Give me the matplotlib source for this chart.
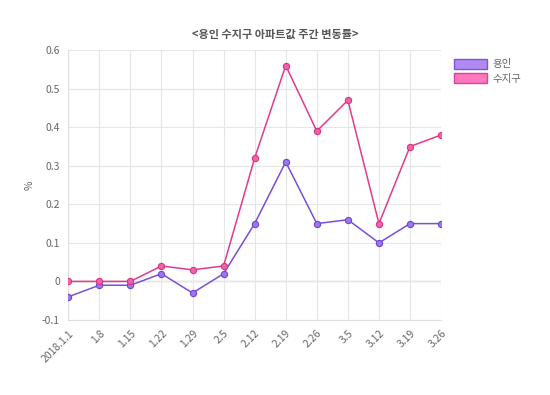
import matplotlib
matplotlib.use("Agg")
import matplotlib.pyplot as plt
from matplotlib.patches import Patch

plt.rcParams['font.family'] = ['Noto Sans CJK KR', 'DejaVu Sans']

# weekly change in apartment prices (%)
weeks = ["2018.1.1", "1.8", "1.15", "1.22", "1.29", "2.5", "2.12",
         "2.19", "2.26", "3.5", "3.12", "3.19", "3.26"]
yongin = [-0.04, -0.01, -0.01, 0.02, -0.03, 0.02, 0.15,
          0.31, 0.15, 0.16, 0.10, 0.15, 0.15]
suji = [0.0, 0.0, 0.0, 0.04, 0.03, 0.04, 0.32,
        0.56, 0.39, 0.47, 0.15, 0.35, 0.38]
yticks = [-0.1, 0, 0.1, 0.2, 0.3, 0.4, 0.5, 0.6]

fig = plt.figure(figsize=(5.5, 3.95), dpi=100)
ax = fig.add_axes([0.124, 0.19, 0.678, 0.683])

x = range(len(weeks))
ax.plot(x, yongin, color="#7a4fd8", lw=1.1, marker="o", ms=4.5,
        mfc="#9d78ea", mec="#6f45cf", mew=0.8, zorder=3)
ax.plot(x, suji, color="#e23a8c", lw=1.1, marker="o", ms=4.5,
        mfc="#f062ac", mec="#d9347f", mew=0.8, zorder=3)

ax.set_xlim(0, len(weeks) - 1)
ax.set_ylim(-0.1, 0.6)
ax.set_xticks(list(x))
ax.set_xticklabels(weeks, rotation=45, ha="right", rotation_mode="anchor")
ax.set_yticks(yticks)
ax.set_yticklabels(["-0.1", "0", "0.1", "0.2", "0.3", "0.4", "0.5", "0.6"])
ax.tick_params(labelsize=7.5, colors="#666666", length=0, pad=6)
ax.grid(True, color="#e6e6e6", lw=0.8)
ax.axhline(0, color="#bdbdbd", lw=0.9, zorder=1)
for s in ["top", "right"]:
    ax.spines[s].set_visible(False)
for s in ["left", "bottom"]:
    ax.spines[s].set_color("#e0e0e0")
    ax.spines[s].set_linewidth(0.8)

ax.set_ylabel("%", fontsize=7.5, color="#666666", labelpad=5)
fig.text(0.5, 0.912, "<용인 수지구 아파트값 주간 변동률>", fontsize=8,
         fontweight="bold", color="#555555", ha="center", va="center")

handles = [Patch(facecolor="#b08af2", edgecolor="#7d55d9", label="용인"),
           Patch(facecolor="#ff78bc", edgecolor="#e0409a", label="수지구")]
fig.legend(handles=handles, loc="upper left", bbox_to_anchor=(0.808, 0.875),
           frameon=False, fontsize=7.5, handlelength=3.2, handleheight=1.1,
           labelcolor="#666666", handletextpad=0.5, labelspacing=0.4)

fig.savefig("out.png", dpi=100)
